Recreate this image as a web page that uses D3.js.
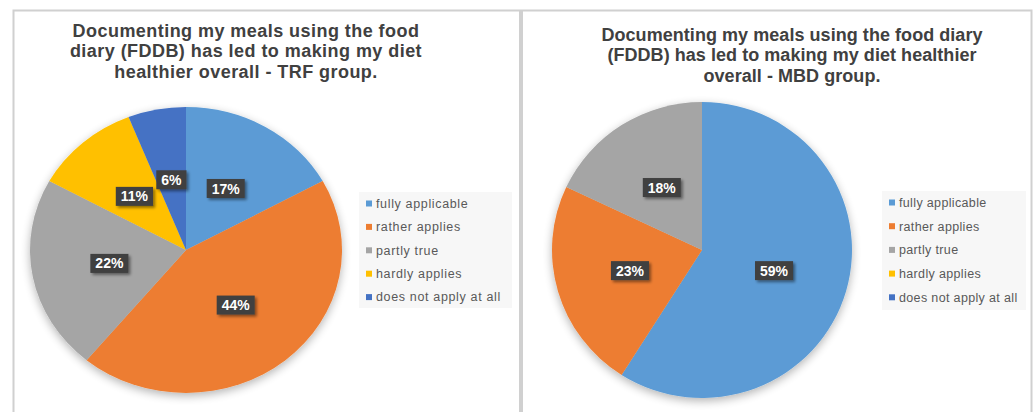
<!DOCTYPE html>
<html>
<head>
<meta charset="utf-8">
<script src="https://cdn.jsdelivr.net/npm/d3@7"></script>
<style>
  body { margin: 0; background: #fff; }
  svg { display: block; font-family: "Liberation Sans", Arial, sans-serif; }
</style>
</head>
<body>
<svg id="chart" width="1036" height="412"></svg>
<script>
// Survey answers (share of respondents, %)
const categories = ["fully applicable", "rather applies", "partly true", "hardly applies", "does not apply at all"];
const trfValues = [17, 44, 22, 11, 6];
const mbdValues = [59, 23, 18, 0, 0];
const sliceColors = ["#5B9BD5", "#ED7D31", "#A5A5A5", "#FFC000", "#4472C4"];
const trfTitle = ["Documenting my meals using the food", "diary (FDDB) has led to making my diet", "healthier overall - TRF group."];
const mbdTitle = ["Documenting my meals using the food diary", "(FDDB) has led to making my diet healthier", "overall - MBD group."];

const svg = d3.select("#chart");
svg.append("rect").attr("width", 1036).attr("height", 412).attr("fill", "#fff");

const defs = svg.append("defs");
const pieShadow = defs.append("filter").attr("id", "pieShadow")
  .attr("x", "-20%").attr("y", "-20%").attr("width", "140%").attr("height", "140%");
pieShadow.append("feGaussianBlur").attr("in", "SourceAlpha").attr("stdDeviation", 5).attr("result", "b");
pieShadow.append("feOffset").attr("in", "b").attr("dx", 0).attr("dy", 3).attr("result", "o");
pieShadow.append("feComponentTransfer").attr("in", "o").attr("result", "s")
  .append("feFuncA").attr("type", "linear").attr("slope", 0.3);
const m1 = pieShadow.append("feMerge");
m1.append("feMergeNode").attr("in", "s");
m1.append("feMergeNode").attr("in", "SourceGraphic");

const boxShadow = defs.append("filter").attr("id", "boxShadow")
  .attr("x", "-30%").attr("y", "-40%").attr("width", "160%").attr("height", "180%");
boxShadow.append("feGaussianBlur").attr("in", "SourceAlpha").attr("stdDeviation", 1.5).attr("result", "b");
boxShadow.append("feOffset").attr("in", "b").attr("dx", 2).attr("dy", 2).attr("result", "o");
boxShadow.append("feComponentTransfer").attr("in", "o").attr("result", "s")
  .append("feFuncA").attr("type", "linear").attr("slope", 0.45);
const m2 = boxShadow.append("feMerge");
m2.append("feMergeNode").attr("in", "s");
m2.append("feMergeNode").attr("in", "SourceGraphic");

const panels = [
  { values: trfValues, title: trfTitle, box: [13.5, 10.5, 506.5, 420],
    titleX: 246, titleY: 37.2, titleGap: 20.2, titleSpacing: 0.45,
    cx: 186, cy: 250, rx: 156, ry: 143,
    legend: [359, 192, 153, 116], legendStep: 23.4, legendSpacing: 0.65 },
  { values: mbdValues, title: mbdTitle, box: [522, 10.5, 509.5, 420],
    titleX: 792, titleY: 40.7, titleGap: 20.5, titleSpacing: 0.05,
    cx: 702, cy: 250, rx: 150, ry: 148,
    legend: [882, 191, 144, 119], legendStep: 23.7, legendSpacing: 0.35 }
];

const pie = d3.pie().sort(null).value(d => d.value);

panels.forEach(p => {
  const g = svg.append("g");

  // chart frame
  g.append("rect")
    .attr("x", p.box[0]).attr("y", p.box[1]).attr("width", p.box[2]).attr("height", p.box[3])
    .attr("fill", "#fff").attr("stroke", "#d0d0d0").attr("stroke-width", 2);

  // title
  const t = g.append("text")
    .attr("text-anchor", "middle").attr("fill", "#404040")
    .attr("font-size", 18).attr("font-weight", "bold")
    .attr("letter-spacing", p.titleSpacing);
  t.selectAll("tspan").data(p.title).join("tspan")
    .attr("x", p.titleX).attr("y", (d, i) => p.titleY + i * p.titleGap).text(d => d);

  // pie (elliptical: arcs drawn at ry and stretched horizontally)
  const data = categories.map((c, i) => ({ name: c, value: p.values[i], color: sliceColors[i] }));
  const arcs = pie(data);
  const arc = d3.arc().innerRadius(0).outerRadius(p.ry);
  const sx = p.rx / p.ry;

  const pg = g.append("g").attr("filter", "url(#pieShadow)")
    .append("g").attr("transform", `translate(${p.cx},${p.cy}) scale(${sx},1)`);
  pg.selectAll("path").data(arcs.filter(a => a.data.value > 0)).join("path")
    .attr("d", arc).attr("fill", d => d.data.color);

  // data labels
  const lg = g.append("g").attr("transform", `translate(${p.cx},${p.cy})`);
  arcs.filter(a => a.data.value > 0).forEach(a => {
    const [x, y] = arc.centroid(a);
    const lab = lg.append("g").attr("transform", `translate(${x * sx},${y})`);
    const rect = lab.append("rect").attr("fill", "#404040").attr("filter", "url(#boxShadow)");
    const txt = lab.append("text")
      .attr("text-anchor", "middle").attr("dy", "0.36em")
      .attr("fill", "#fff").attr("font-size", 14).attr("font-weight", "bold")
      .text(a.data.value + "%");
    const w = txt.node().getComputedTextLength() + 10;
    rect.attr("x", -w / 2).attr("y", -9.5).attr("width", w).attr("height", 19);
  });

  // legend
  const [lx, ly, lw, lh] = p.legend;
  g.append("rect").attr("x", lx).attr("y", ly).attr("width", lw).attr("height", lh).attr("fill", "#f7f7f7");
  const items = g.selectAll(null).data(data).join("g")
    .attr("transform", (d, i) => `translate(${lx + 7},${ly + 11.5 + i * p.legendStep})`);
  items.append("rect").attr("x", 0).attr("y", -3).attr("width", 6).attr("height", 6).attr("fill", d => d.color);
  items.append("text").attr("x", 10).attr("dy", "0.35em")
    .attr("fill", "#595959").attr("font-size", 12.5).attr("letter-spacing", p.legendSpacing)
    .text(d => d.name);
});
</script>
</body>
</html>
